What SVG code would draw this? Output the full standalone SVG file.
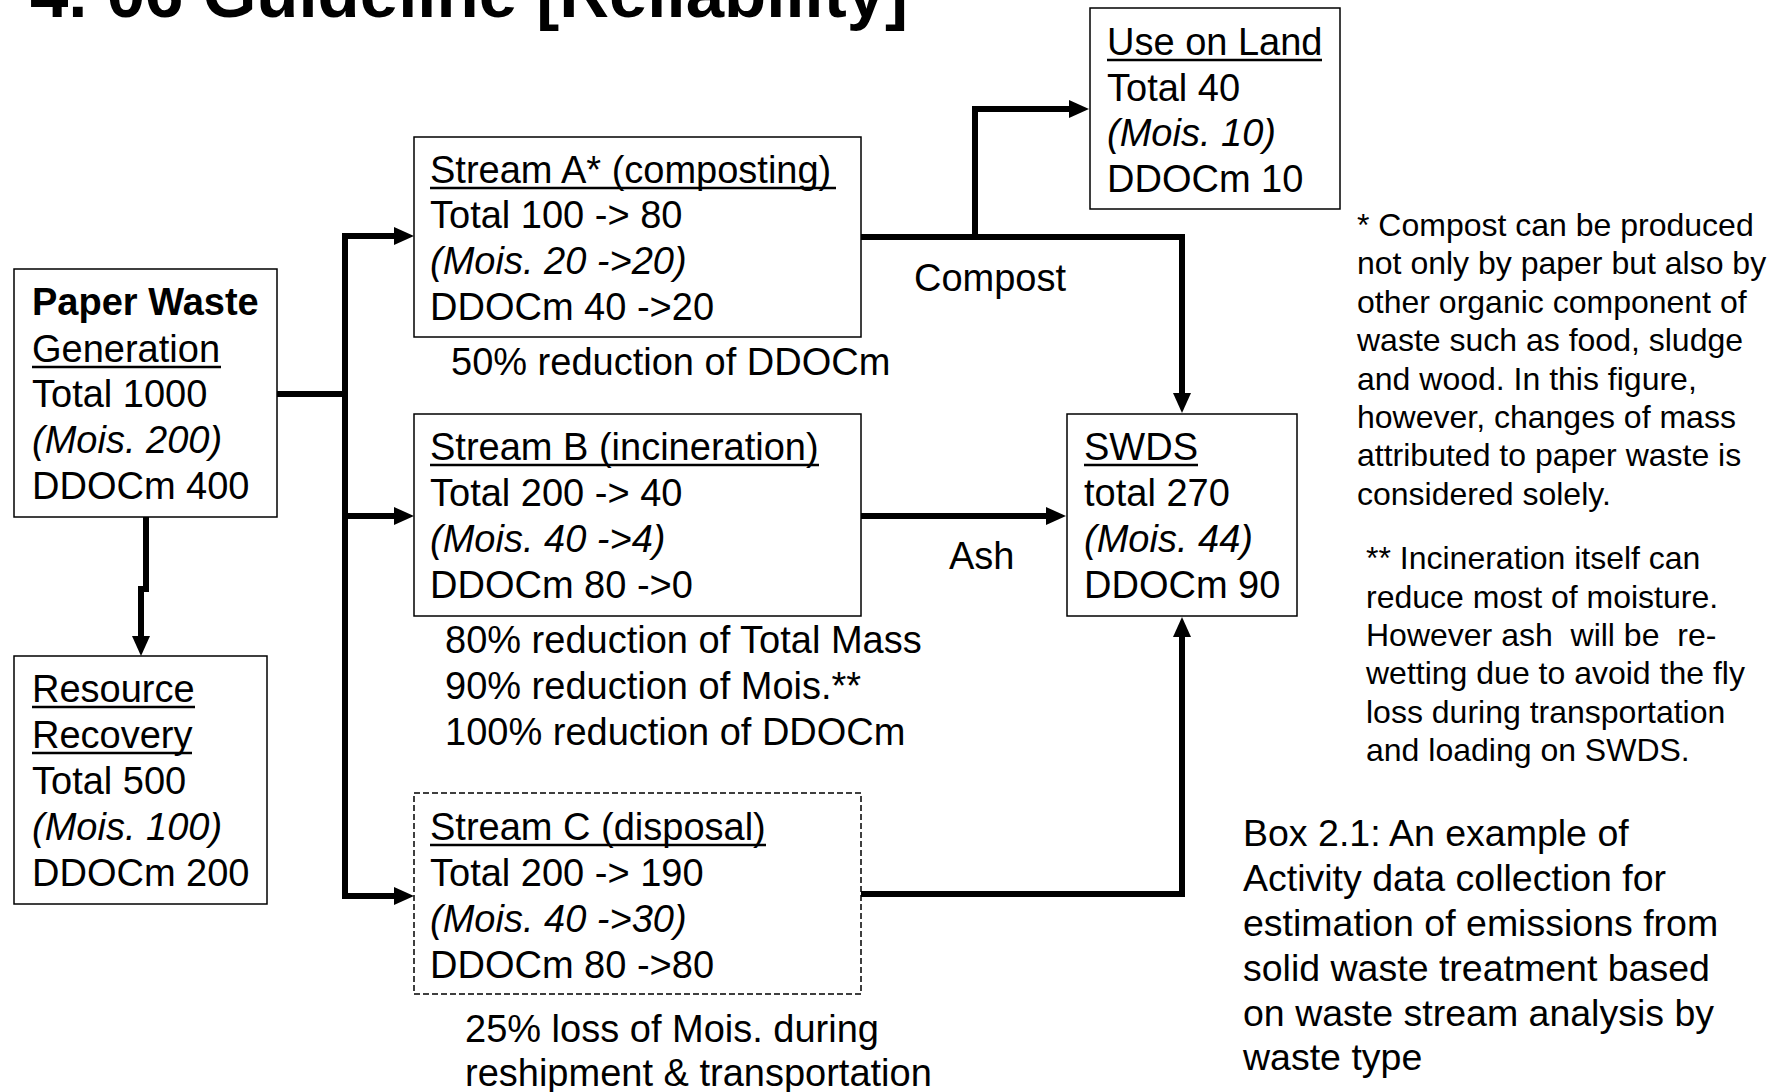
<svg xmlns="http://www.w3.org/2000/svg" width="1774" height="1092" viewBox="0 0 1774 1092">
<style>
text{font-family:"Liberation Sans",Arial,sans-serif;fill:#000}
.t{font-size:38px}
.n{font-size:32px}
.cap{font-size:37.5px}
.ul{stroke:#000;stroke-width:2.5}
.i{font-style:italic}
.b{font-weight:bold}
.box{fill:#fff;stroke:#000;stroke-width:1.5}
.dash{stroke-dasharray:6 3}
.c{fill:none;stroke:#000;stroke-width:6;stroke-linejoin:miter}
</style>
<defs>
<marker id="ah" markerUnits="userSpaceOnUse" markerWidth="20" markerHeight="20" refX="0" refY="9" orient="auto" overflow="visible">
<path d="M0,0 L20,9 L0,18 z" fill="#000"/>
</marker>
</defs>
<rect width="1774" height="1092" fill="#fff"/>
<text id="title" class="b" x="30" y="17" font-size="69">4. 06 Guideline [Reliability]</text>

<g id="connectors">
<path class="c" d="M277,394 H345"/>
<path class="c" d="M345,394 V236 H394" marker-end="url(#ah)"/>
<path class="c" d="M345,394 V896 H394" marker-end="url(#ah)"/>
<path class="c" d="M345,516 H394" marker-end="url(#ah)"/>
<path class="c" d="M146,517 V589 H141 V636" marker-end="url(#ah)"/>
<path class="c" d="M861,237 H1182 V393" marker-end="url(#ah)"/>
<path class="c" d="M975,237 V109 H1069" marker-end="url(#ah)"/>
<path class="c" d="M861,516 H1046" marker-end="url(#ah)"/>
<path class="c" d="M861,894 H1182 V637" marker-end="url(#ah)"/>
<text class="t" x="914" y="291">Compost</text>
<text class="t" x="949" y="569">Ash</text>
</g>

<g id="paper-waste">
<rect class="box" x="14" y="269" width="263" height="248"/>
<text class="t b" x="32" y="315">Paper Waste</text>
<text class="t" x="32" y="362">Generation</text>
<line class="ul" x1="32" y1="367" x2="221" y2="367"/>
<text class="t" x="32" y="407">Total 1000</text>
<text class="t i" x="32" y="453">(Mois. 200)</text>
<text class="t" x="32" y="499">DDOCm 400</text>
</g>

<g id="resource-recovery">
<rect class="box" x="14" y="656" width="253" height="248"/>
<text class="t" x="32" y="702">Resource</text>
<line class="ul" x1="32" y1="707" x2="195" y2="707"/>
<text class="t" x="32" y="748">Recovery</text>
<line class="ul" x1="32" y1="753" x2="192" y2="753"/>
<text class="t" x="32" y="794">Total 500</text>
<text class="t i" x="32" y="840">(Mois. 100)</text>
<text class="t" x="32" y="886">DDOCm 200</text>
</g>

<g id="stream-a">
<rect class="box" x="414" y="137" width="447" height="200"/>
<text class="t" x="430" y="183">Stream A* (composting)</text>
<line class="ul" x1="430" y1="188" x2="836" y2="188"/>
<text class="t" x="430" y="228">Total 100 -&gt; 80</text>
<text class="t i" x="430" y="274">(Mois. 20 -&gt;20)</text>
<text class="t" x="430" y="320">DDOCm 40 -&gt;20</text>
<text class="t" x="451" y="375">50% reduction of DDOCm</text>
</g>

<g id="stream-b">
<rect class="box" x="414" y="414" width="447" height="202"/>
<text class="t" x="430" y="460">Stream B (incineration)</text>
<line class="ul" x1="430" y1="465" x2="819" y2="465"/>
<text class="t" x="430" y="506">Total 200 -&gt; 40</text>
<text class="t i" x="430" y="552">(Mois. 40 -&gt;4)</text>
<text class="t" x="430" y="598">DDOCm 80 -&gt;0</text>
<text class="t" x="445" y="653">80% reduction of Total Mass</text>
<text class="t" x="445" y="699">90% reduction of Mois.**</text>
<text class="t" x="445" y="745">100% reduction of DDOCm</text>
</g>

<g id="stream-c">
<rect class="box dash" x="414" y="793" width="447" height="201"/>
<text class="t" x="430" y="840">Stream C (disposal)</text>
<line class="ul" x1="430" y1="845" x2="766" y2="845"/>
<text class="t" x="430" y="886">Total 200 -&gt; 190</text>
<text class="t i" x="430" y="932">(Mois. 40 -&gt;30)</text>
<text class="t" x="430" y="978">DDOCm 80 -&gt;80</text>
<text class="t" x="465" y="1042">25% loss of Mois. during</text>
<text class="t" x="465" y="1086">reshipment &amp; transportation</text>
</g>

<g id="use-on-land">
<rect class="box" x="1090" y="8" width="250" height="201"/>
<text class="t" x="1107" y="55">Use on Land</text>
<line class="ul" x1="1107" y1="60" x2="1322" y2="60"/>
<text class="t" x="1107" y="101">Total 40</text>
<text class="t i" x="1107" y="146">(Mois. 10)</text>
<text class="t" x="1107" y="192">DDOCm 10</text>
</g>

<g id="swds">
<rect class="box" x="1067" y="414" width="230" height="202"/>
<text class="t" x="1084" y="460">SWDS</text>
<line class="ul" x1="1084" y1="465" x2="1198" y2="465"/>
<text class="t" x="1084" y="506">total 270</text>
<text class="t i" x="1084" y="552">(Mois. 44)</text>
<text class="t" x="1084" y="598">DDOCm 90</text>
</g>

<g id="note-compost">
<text class="n" x="1357" y="236">* Compost can be produced</text>
<text class="n" x="1357" y="274">not only by paper but also by</text>
<text class="n" x="1357" y="313">other organic component of</text>
<text class="n" x="1357" y="351">waste such as food, sludge</text>
<text class="n" x="1357" y="390">and wood. In this figure,</text>
<text class="n" x="1357" y="428">however, changes of mass</text>
<text class="n" x="1357" y="466">attributed to paper waste is</text>
<text class="n" x="1357" y="505">considered solely.</text>
</g>

<g id="note-incineration">
<text class="n" x="1366" y="569">** Incineration itself can</text>
<text class="n" x="1366" y="608">reduce most of moisture.</text>
<text class="n" x="1366" y="646" xml:space="preserve">However ash  will be  re-</text>
<text class="n" x="1366" y="684">wetting due to avoid the fly</text>
<text class="n" x="1366" y="723">loss during transportation</text>
<text class="n" x="1366" y="761">and loading on SWDS.</text>
</g>

<g id="box-caption">
<text class="cap" x="1243" y="846">Box 2.1: An example of</text>
<text class="cap" x="1243" y="891">Activity data collection for</text>
<text class="cap" x="1243" y="936">estimation of emissions from</text>
<text class="cap" x="1243" y="981">solid waste treatment based</text>
<text class="cap" x="1243" y="1026">on waste stream analysis by</text>
<text class="cap" x="1243" y="1070">waste type</text>
</g>
</svg>
